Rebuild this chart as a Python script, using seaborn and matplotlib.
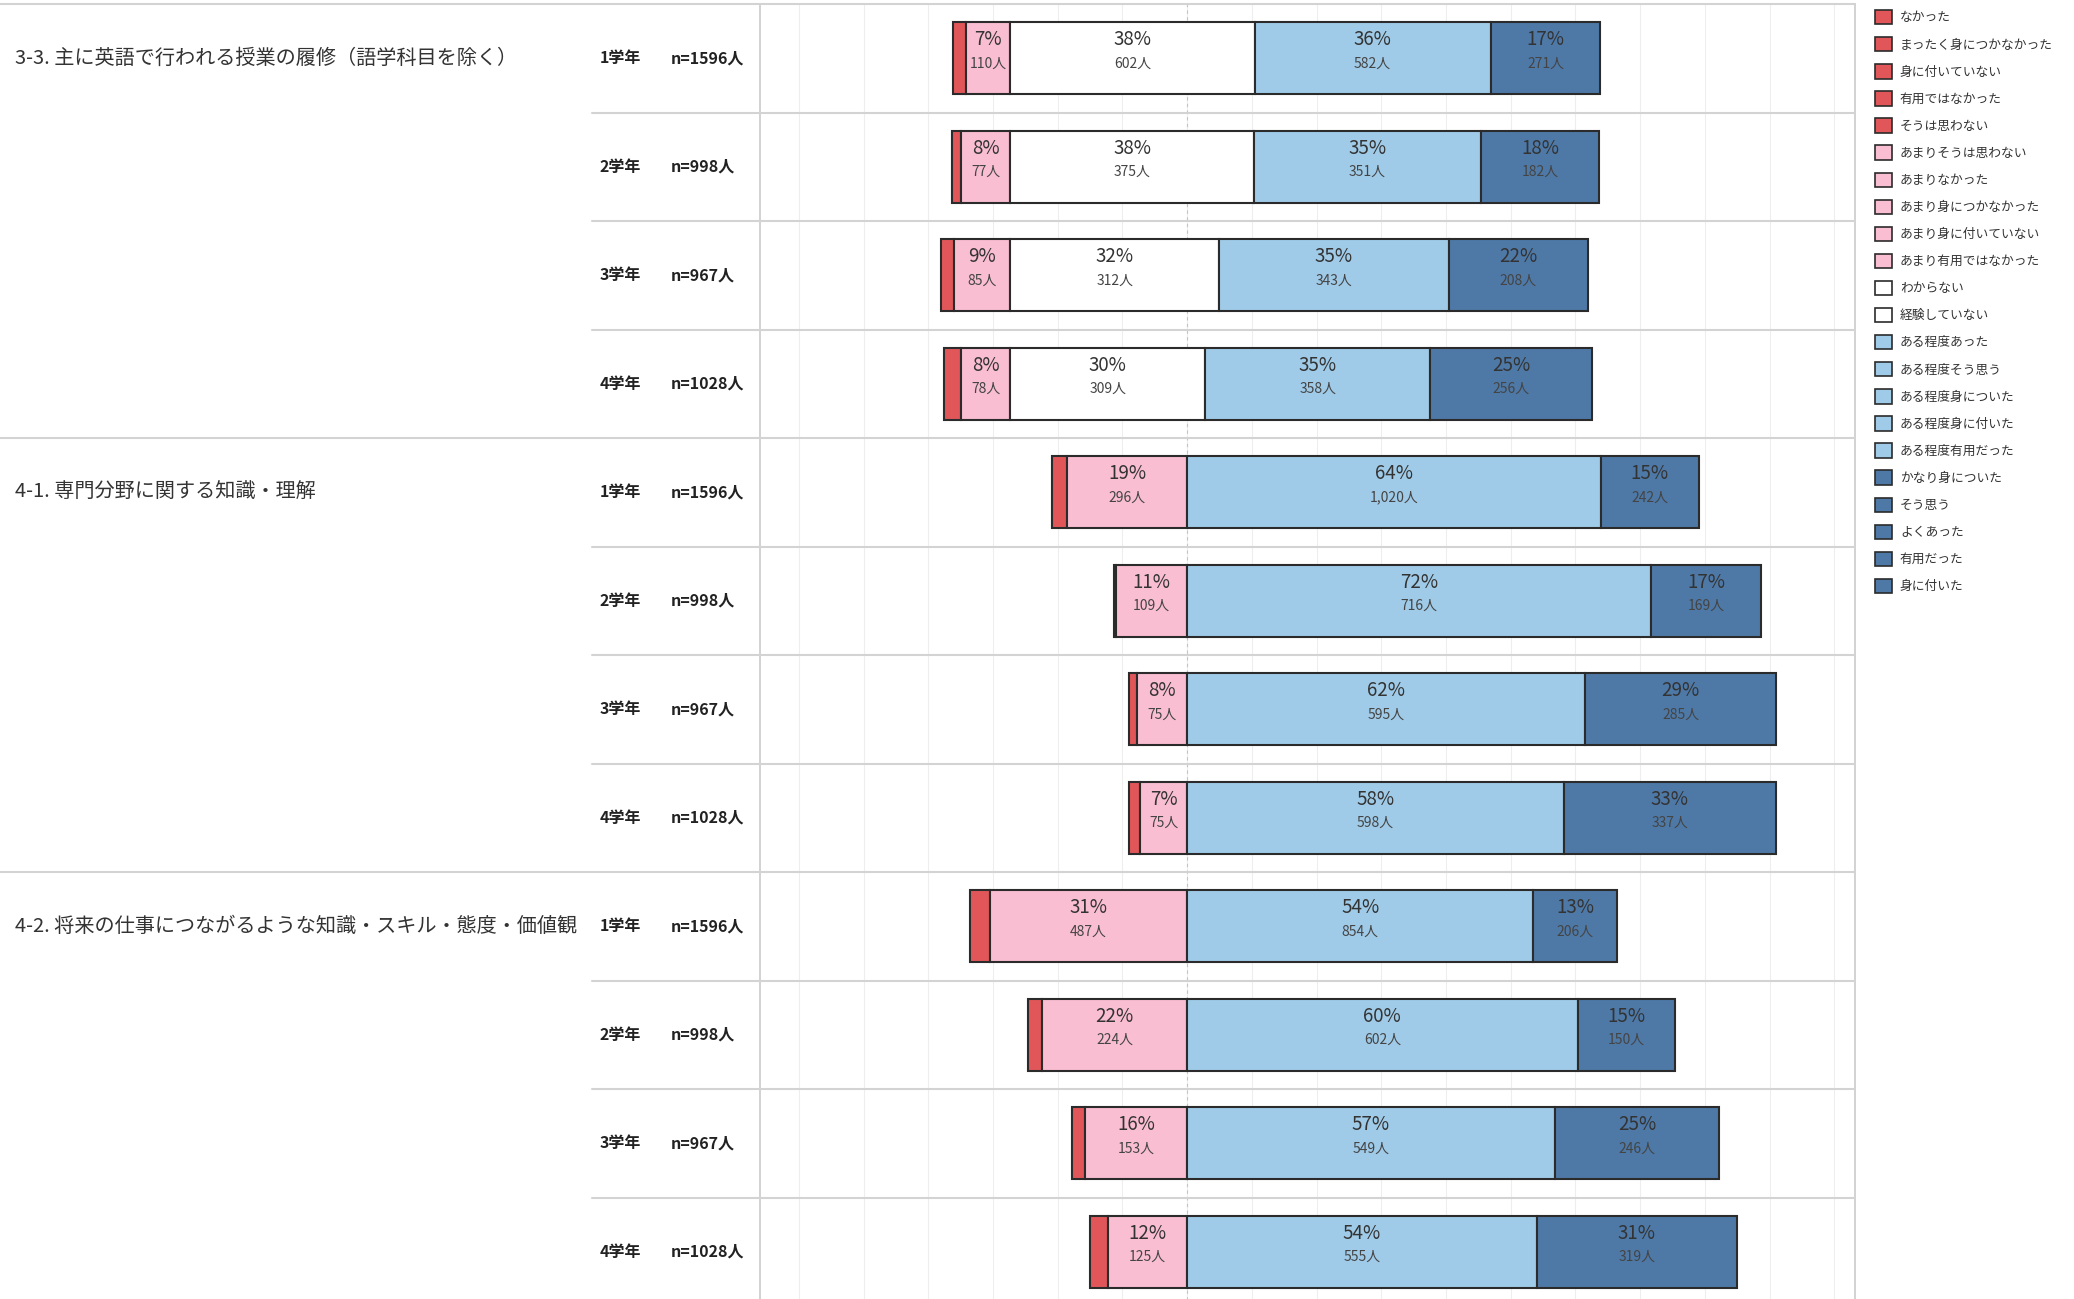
import numpy as np
import pandas as pd
import matplotlib
matplotlib.use("Agg")
import matplotlib.pyplot as plt
import matplotlib.transforms as mtransforms
from matplotlib.patches import Patch
from matplotlib.lines import Line2D
import seaborn as sns

# ---- data ----
questions = ["3-3. 主に英語で行われる授業の履修（語学科目を除く）",
             "4-1. 専門分野に関する知識・理解",
             "4-2. 将来の仕事につながるような知識・スキル・態度・価値観"]
grades = ["1学年", "2学年", "3学年", "4学年"]
n_resp = [1596, 998, 967, 1028]

# counts per row: 3-3 (1-4学年), 4-1 (1-4学年), 4-2 (1-4学年)
cnt_red = [31, 13, 19, 27, 38, 4, 12, 18, 49, 22, 19, 29]
cnt_pink = [110, 77, 85, 78, 296, 109, 75, 75, 487, 224, 153, 125]
cnt_white = [602, 375, 312, 309, 0, 0, 0, 0, 0, 0, 0, 0]
cnt_lblue = [582, 351, 343, 358, 1020, 716, 595, 598, 854, 602, 549, 555]
cnt_dblue = [271, 182, 208, 256, 242, 169, 285, 337, 206, 150, 246, 319]

# where the negative side ends (x in %), per question
neg_anchor = [-27.3, 0.0, 0.0]

legend_labels = ["なかった", "まったく身につかなかった", "身に付いていない", "有用ではなかった", "そうは思わない",
                 "あまりそうは思わない", "あまりなかった", "あまり身につかなかった", "あまり身に付いていない", "あまり有用ではなかった",
                 "わからない", "経験していない",
                 "ある程度あった", "ある程度そう思う", "ある程度身についた", "ある程度身に付いた", "ある程度有用だった",
                 "かなり身についた", "そう思う", "よくあった", "有用だった", "身に付いた"]
legend_groups = [0] * 5 + [1] * 5 + [2] * 2 + [3] * 5 + [4] * 5

colors = ["#E15759", "#F9BED2", "#FFFFFF", "#A0CBE8", "#4E79A7"]
edge = "#2b2b2b"

# ---- table ----
rows = [f"{q}|{g}" for q in questions for g in grades]
df = pd.DataFrame({
    "row": rows,
    "n": n_resp * 3,
    "red": cnt_red, "pink": cnt_pink, "white": cnt_white,
    "lblue": cnt_lblue, "dblue": cnt_dblue,
})
df["anchor"] = np.repeat(neg_anchor, 4)
cats = ["red", "pink", "white", "lblue", "dblue"]
for c in cats:
    df["p_" + c] = df[c] / df["n"] * 100
df["l_red"] = df["anchor"] - df["p_pink"] - df["p_red"]
df["l_pink"] = df["anchor"] - df["p_pink"]
df["l_white"] = df["anchor"]
df["l_lblue"] = df["anchor"] + df["p_white"]
df["l_dblue"] = df["l_lblue"] + df["p_lblue"]

# ---- figure ----
sns.set_theme(style="white")
plt.rcParams["font.family"] = ["Noto Sans CJK JP", "DejaVu Sans"]

W, H = 2074, 1299
fig = plt.figure(figsize=(W / 100, H / 100), dpi=100)
row_h = 108.5
top_px = 4
ax = fig.add_axes([760 / W, (H - top_px - 12 * row_h) / H, 1095 / W, 12 * row_h / H])

for c, col in zip(cats, colors):
    sub = df[df[c] > 0]
    sns.barplot(x=sub["p_" + c], y=sub["row"], order=rows, orient="y",
                left=sub["l_" + c].to_numpy(), color=col, saturation=1,
                edgecolor=edge, linewidth=1.5, width=0.66, errorbar=None, ax=ax)

ax.set_xlim(-66, 103.2)
ax.set_ylim(11.5, -0.5)
ax.set_xticks(range(-60, 101, 10))
ax.set_xticklabels([])
ax.set_yticklabels([])
ax.set_xlabel("")
ax.set_ylabel("")
ax.tick_params(length=0)
ax.grid(axis="x", color="#eeeeee", lw=0.8)
ax.set_axisbelow(True)
ax.axvline(0, color="#c4c4c4", ls=(0, (3, 3)), lw=0.8, zorder=0.6)
for s in ["top", "bottom"]:
    ax.spines[s].set_visible(False)
for s in ["left", "right"]:
    ax.spines[s].set_color("#cfcfcf")
    ax.spines[s].set_linewidth(1.3)

# separators
trans = mtransforms.blended_transform_factory(fig.transFigure, ax.transData)
x_end = 1855 / W
for b in range(12):
    y = b - 0.5
    x0 = 0 if b % 4 == 0 else 592 / W
    fig.add_artist(Line2D([x0, x_end], [y, y], transform=trans, color="#d3d3d3", lw=1.5, clip_on=False))

# row headers
for qi, q in enumerate(questions):
    fig.text(15 / W, qi * 4, q, transform=trans, ha="left", va="center", fontsize=14.5, color="#333333")
    for gi, g in enumerate(grades):
        i = qi * 4 + gi
        fig.text(600 / W, i, g, transform=trans, ha="left", va="center", fontsize=11.5,
                 fontweight="bold", color="#222222")
        fig.text(671 / W, i, f"n={n_resp[gi]}人", transform=trans, ha="left", va="center",
                 fontsize=11.5, fontweight="bold", color="#222222")

# bar labels
for i, r in df.iterrows():
    for c in cats[1:]:
        if r[c] <= 0:
            continue
        xc = r["l_" + c] + r["p_" + c] / 2
        ax.text(xc, i - 0.17, f"{r['p_' + c]:.0f}%", ha="center", va="center", fontsize=13.5, color="#333333")
        ax.text(xc, i + 0.05, f"{r[c]:,}人", ha="center", va="center", fontsize=10, color="#444444")

# legend
handles = [Patch(facecolor=colors[g], edgecolor=edge, linewidth=1.2) for g in legend_groups]
fig.legend(handles, legend_labels, loc="upper left", bbox_to_anchor=(1875 / W, 1 - 10 / H),
           frameon=False, fontsize=9.2, handlelength=1.35, handleheight=1.35,
           labelspacing=0.99, handletextpad=0.6, borderaxespad=0, borderpad=0, labelcolor="#333333")

fig.savefig("out.png", dpi=100)
